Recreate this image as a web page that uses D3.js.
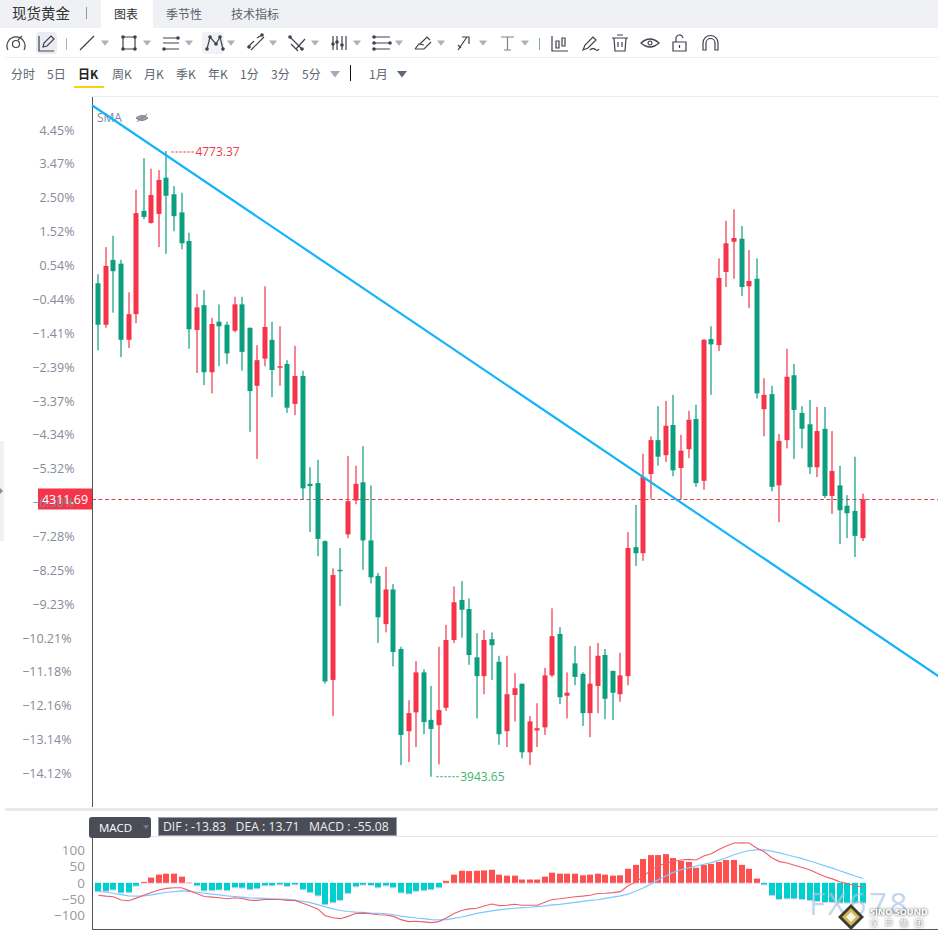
<!DOCTYPE html>
<html>
<head>
<meta charset="utf-8">
<title>现货黄金</title>
<script src="https://cdn.jsdelivr.net/npm/d3@7"></script>
<style>
html, body { margin: 0; padding: 0; background: #fff; overflow: hidden; }
svg { display: block; }
text { font-family: "Noto Sans CJK SC", "Noto Sans", sans-serif; }
.num { font-family: "Open Sans", "Noto Sans", sans-serif; }
</style>
</head>
<body>
<svg id="chart" width="938" height="939"></svg>
<script>
// daily candles (red = up, green = down)
var opens = [4598,4543,4629,4624,4523,4557,4694,4678,4690,4738,4716,4692,4654,4536,4569,4480,4547,4543,4535,4570,
    4539,4462,4498,4523,4486,4491,4438,4475,4332,4333,4256,4072,4218,4265,4310,4334,4257,4210,4146,4192,
    4113,4004,4029,4082,4019,4012,4035,4125,4178,4166,4102,4077,4126,4096,4004,4052,4067,3976,4005,4009,
    4078,4133,4051,4094,4080,4028,4064,4105,4084,4053,4077,4248,4240,4345,4390,4370,4410,4353,4378,4418,
    4336,4524,4516,4613,4653,4657,4594,4604,4431,4451,4330,4390,4476,4426,4411,4354,4405,4316,4330,4303,
    4296,4260];
var highs = [4610,4646,4661,4629,4586,4722,4764,4750,4748,4773.37,4727,4718,4665,4584,4589,4552,4570,4547,4580,4580,
    4539,4516,4594,4547,4541,4496,4515,4482,4354,4364,4257,4220,4247,4369,4356,4382,4330,4214,4222,4199,
    4116,4045,4097,4086,4064,4116,4145,4196,4203,4180,4134,4138,4135,4104,4104,4081,4067,4024,4041,4088,
    4167,4142,4082,4117,4082,4117,4121,4113,4084,4108,4268,4304,4372,4395,4435,4442,4450,4397,4429,4437,
    4524,4541,4631,4681,4696,4674,4642,4631,4472,4462,4398,4511,4491,4435,4443,4434,4434,4402,4356,4317,
    4368,4319];
var lows = [4509,4539,4559,4500,4512,4545,4683,4677,4646,4637,4667,4643,4511,4479,4463,4452,4488,4491,4533,4482,
    4401,4365,4488,4447,4462,4426,4423,4312,4268,4236,4067,4024,4170,4260,4305,4218,4200,4121,4135,4090,
    3959,3963,3983,4000,3943.65,3960,4031,4121,4128,4092,4021,4053,4072,3986,3983,4017,3968,3959,3983,3999,
    4076,4040,4021,4065,4011,3996,4028,4020,4019,4043,4065,4223,4230,4312,4356,4361,4342,4311,4366,4328,
    4324,4450,4508,4593,4604,4581,4565,4445,4395,4322,4281,4379,4365,4379,4345,4341,4313,4292,4252,4260,
    4235,4256];
var closes = [4543,4621,4614,4523,4557,4691,4686,4715,4735,4714,4687,4651,4537,4566,4480,4544,4541,4505,4570,4507,
    4455,4496,4540,4483,4488,4433,4475,4326,4329,4259,4070,4211,4216,4309,4332,4257,4208,4155,4192,4109,
    3999,4028,4082,4016,4007,4032,4125,4175,4165,4105,4077,4125,4118,4000,4053,4061,3976,4017,4008,4078,
    4130,4049,4055,4076,4028,4067,4104,4047,4055,4078,4247,4240,4341,4390,4368,4409,4350,4376,4417,4333,
    4523,4517,4605,4651,4658,4593,4601,4452,4450,4328,4389,4474,4430,4405,4354,4402,4316,4349,4297,4293,
    4263,4311.69];

var percentLabels = [4.45,3.47,2.50,1.52,0.54,-0.44,-1.41,-2.39,-3.37,-4.34,-5.32,-6.30,-7.28,-8.25,-9.23,-10.21,-11.18,-12.16,-13.14,-14.12];
var basePrice = 4596;
var lastPrice = 4311.69;
var highPrice = 4773.37;
var lowPrice = 3943.65;

// drawn trend line, two ends in (candle index, price)
var trendIndex = [-0.83, 111.6];
var trendPrice = [4834, 4073];

// MACD panel
var macdBars = [-26,-25,-21,-30,-29,-9,3,16,25,28,28,19,1,-8,-24,-23,-21,-23,-14,-15,
    -20,-17,-8,-8,-5,-10,-5,-20,-29,-39,-66,-60,-53,-32,-11,-6,-7,-14,-8,-14,
    -30,-33,-25,-23,-20,-14,6,25,37,36,37,38,40,25,22,22,10,10,10,19,
    31,28,28,28,23,25,28,25,22,23,43,55,73,85,85,88,76,67,64,46,
    55,58,64,70,70,55,43,13,-5,-38,-50,-48,-48,-50,-53,-56,-59,-59,-61,-61,
    -61,-61];
var difLine = [-38,-41,-43,-53,-55,-47,-38,-30,-22,-17,-15,-15,-24,-33,-42,-44,-46,-49,-46,-48,
    -53,-54,-51,-51,-51,-54,-54,-63,-71,-80,-101,-107,-110,-103,-94,-93,-95,-98,-99,-103,
    -113,-119,-118,-120,-122,-119,-108,-94,-85,-80,-78,-71,-65,-70,-69,-66,-69,-69,-69,-60,
    -51,-49,-46,-43,-41,-38,-33,-32,-30,-27,-9,2,19,39,52,60,66,70,72,70,
    82,89,102,113,122,123,122,107,95,77,65,61,54,47,40,29,19,12,3,-3,
    -9,-13.83];
var deaLine = [-26,-29,-32,-36,-40,-41,-40,-37,-33,-29,-27,-25,-26,-29,-32,-35,-37,-40,-42,-44,
    -46,-47,-48,-49,-50,-51,-53,-57,-61,-67,-74,-80,-85,-88,-90,-91,-93,-94,-95,-98,
    -102,-105,-108,-110,-113,-114,-113,-109,-105,-100,-94,-90,-86,-83,-80,-78,-76,-75,-73,-71,
    -68,-66,-63,-60,-57,-54,-52,-48,-44,-40,-35,-26,-16,-4,9,21,32,40,46,51,
    57,62,69,77,86,93,99,101,101,97,92,86,80,74,67,60,52,45,37,29,
    21,13.71];
var macdTicks = [100, 50, 0, -50, -100];

// toolbar text
var headerTabs = ["图表", "季节性", "技术指标"];
var periodLabels = ["分时", "5日", "日K", "周K", "月K", "季K", "年K", "1分", "3分", "5分"];

var red = "#f5344a", green = "#0b9f7f";
var svg = d3.select("#chart");

var x = d3.scaleLinear().domain([0, opens.length - 1]).range([98.3, 862.6]);
var y = d3.scaleLinear().domain([highPrice, lowPrice]).range([151, 776.7]);
var yMacd = d3.scaleLinear().domain([100, -100]).range([850.2, 915.4]);

drawHeader();
drawChart();
drawMacd();
drawWatermark();

function drawHeader() {
    svg.append("rect").attr("width", 938).attr("height", 28).attr("fill", "#eff1f5");
    svg.append("rect").attr("x", 101).attr("width", 52).attr("height", 28).attr("fill", "#fff");
    svg.append("text").attr("x", 12).attr("y", 18.5).attr("font-size", 14.5).attr("fill", "#333").text("现货黄金");
    svg.append("rect").attr("x", 86).attr("y", 7).attr("width", 1).attr("height", 12).attr("fill", "#8d97a8");

    var tabX = [114, 166, 231];
    svg.selectAll(".tab").data(headerTabs).enter().append("text")
        .attr("class", "tab")
        .attr("x", function(d, i) { return tabX[i]; })
        .attr("y", 18.5)
        .attr("font-size", 12)
        .attr("fill", function(d, i) { return i == 0 ? "#333" : "#5a6068"; })
        .text(function(d) { return d; });

    svg.append("rect").attr("x", 5).attr("y", 57).attr("width", 933).attr("height", 1).attr("fill", "#efefef");
    svg.append("rect").attr("x", 36).attr("y", 32).attr("width", 21).attr("height", 22).attr("rx", 4).attr("fill", "#eaecf2");
    svg.append("rect").attr("x", 202).attr("y", 32).attr("width", 22).attr("height", 22).attr("rx", 4).attr("fill", "#f1f2f5");
    svg.append("rect").attr("x", 66).attr("y", 38).attr("width", 1).attr("height", 12).attr("fill", "#b9a5cf");
    svg.append("rect").attr("x", 539).attr("y", 38).attr("width", 1).attr("height", 12).attr("fill", "#7fae9c");

    // caret positions of the tool buttons
    [105, 147, 189, 231, 273, 315, 357, 399, 441, 483, 525].forEach(function(cx) {
        caret(cx, 43, "#aab0bd");
    });

    var icons = [
        // gauge
        "M8 50a9 9 0 1 1 16 0 M12.5 44a3.500 3.500 0 1 0 7 0a3.500 3.500 0 1 0 -7 0 M18 40l4 -4",
        // pencil
        "M39 36v15h15 M43 47l1 -4l7 -7l3 3l-7 7z",
        // line
        "M80 50l14 -14",
        // rectangle
        "M123 37h12v12h-12z",
        // lines
        "M163 38h16 M163 43h16 M163 49h16",
        // pitchfork
        "M207 49l3 -12l6 7l4 -7l3 12",
        // parallel
        "M248 47l6 -6 M257 38l5 -3 M251 50l13 -13",
        // cross
        "M290 37l12 12 M296 49l9 -10 M291 44l7 7",
        // columns
        "M333 36v14 M337 36v14 M342 36v14 M346 36v14",
        // fib
        "M374 37h16 M374 43h16 M374 49h16",
        // brush
        "M415 49h9l7 -7 M420 44l7 -7l3 3 M415 49l4 -5l5 1",
        // arrow
        "M458 50l9 -13 M462 37h7v7 M458 45l3 3",
        // text
        "M501 37h13 M507.500 37v13 M504 50h7",
        // candle chart
        "M552 36v15h16 M556 41h3v7h-3z M562 38h3v8h-3z",
        // pencil 2
        "M583 50l2 -5l8 -8l3 3l-8 8z M590 50q3 -3 6 0q2 1 3 -1",
        // trash
        "M612 38h16 M617 35h6 M614 38l1 13h10l1 -13 M618 42v5 M622 42v5",
        // eye
        "M641 43q9 -8 18 0q-9 8 -18 0z M650 41a2 2 0 1 0 .01 0",
        // lock
        "M673 42h13v9h-13z M676 42v-3a3.500 3.500 0 0 1 7 -1 M679.500 45v3",
        // magnet
        "M703 50v-7a7.500 7.500 0 0 1 15 0v7h-3v-7a4.500 4.500 0 0 0 -9 0v7z"
    ];
    svg.selectAll(".icon").data(icons).enter().append("path")
        .attr("class", "icon")
        .attr("d", function(d) { return d; })
        .attr("fill", "none")
        .attr("stroke", function(d, i) { return i == 12 ? "#7b828c" : "#3d424b"; })
        .attr("stroke-width", 1.2);

    // handles on the drawing tools
    var dots = [[123,37],[135,37],[123,49],[135,49],[178,38],[164,49],[207,49],[210,37],[216,44],[220,37],[223,49],
        [249,47],[262,35],[290,37],[302,49],[374,37],[374,43],[374,49],[390,43],[337,42],[342,45],[333,44]];
    svg.selectAll(".dot").data(dots).enter().append("circle")
        .attr("class", "dot")
        .attr("cx", function(d) { return d[0]; })
        .attr("cy", function(d) { return d[1]; })
        .attr("r", 1.8)
        .attr("fill", "#3d424b");

    var periodX = [11, 47, 78, 112, 144, 176, 208, 240, 271, 302];
    svg.selectAll(".period").data(periodLabels).enter().append("text")
        .attr("class", "period")
        .attr("x", function(d, i) { return periodX[i]; })
        .attr("y", 78.5)
        .attr("font-size", 12)
        .attr("font-weight", function(d) { return d == "日K" ? "bold" : "normal"; })
        .attr("fill", function(d) { return d == "日K" ? "#222" : "#5d6572"; })
        .text(function(d) { return d; });
    svg.append("rect").attr("x", 74).attr("y", 86).attr("width", 30).attr("height", 2).attr("fill", "#f7d308");
    caret(335, 74, "#a3a9c0", 5);
    svg.append("rect").attr("x", 350).attr("y", 65).attr("width", 1).attr("height", 16).attr("fill", "#111");
    svg.append("text").attr("x", 369).attr("y", 78.5).attr("font-size", 12).attr("fill", "#5d6572").text("1月");
    caret(402, 74, "#5e6678", 5);
}

function caret(cx, cy, color, size) {
    var s = size || 4;
    svg.append("path")
        .attr("d", "M" + (cx - s) + " " + (cy - s * 0.6) + "h" + (2 * s) + "l" + (-s) + " " + (s * 1.3) + "z")
        .attr("fill", color);
}

function drawChart() {
    svg.append("rect").attr("x", 92).attr("y", 96).attr("width", 846).attr("height", 1).attr("fill", "#ececec");
    svg.append("rect").attr("x", 0).attr("y", 441).attr("width", 4).attr("height", 100).attr("fill", "#f0f1f5");
    svg.append("path").attr("d", "M0 488l3 3l-3 3z").attr("fill", "#8b8f98");

    // last price tag and dashed line
    var lastY = Math.floor(y(lastPrice)) + 0.5;
    svg.append("line")
        .attr("x1", 92).attr("x2", 938)
        .attr("y1", lastY).attr("y2", lastY)
        .attr("stroke", "#e0404f").attr("stroke-dasharray", "4,2.5");
    svg.append("rect").attr("x", 38).attr("y", lastY - 11).attr("width", 54).attr("height", 21).attr("fill", red);

    svg.selectAll(".pct").data(percentLabels).enter().append("text")
        .attr("class", "pct num")
        .attr("x", function(d) { return d <= -10 ? 71.5 : 74.5; })
        .attr("y", function(d) { return y(basePrice * (1 + d / 100)) + 4; })
        .attr("text-anchor", "end")
        .attr("font-size", 12.5)
        .attr("fill", "#858b99")
        .text(function(d) { return d3.format(".2f")(d) + "%"; });

    svg.append("text").attr("class", "num").attr("x", 65).attr("y", lastY + 4)
        .attr("text-anchor", "middle").attr("font-size", 12.5).attr("fill", "#fff").text(d3.format(".2f")(lastPrice));

    // axis
    svg.append("rect").attr("x", 92).attr("y", 97).attr("width", 1).attr("height", 710).attr("fill", "#555");

    svg.append("text").attr("class", "num").attr("x", 97).attr("y", 122).attr("font-size", 12).attr("fill", "#858b99").text("SMA");
    svg.append("path")
        .attr("d", "M136 118q6 -5 12 0q-6 5 -12 0z M137 122l10 -8")
        .attr("fill", "#9aa0ac").attr("stroke", "#7b818c").attr("stroke-width", 1);

    // candles
    var isUp = function(i) { return closes[i] >= opens[i]; };
    var idx = d3.range(opens.length);
    var candles = svg.append("g");
    candles.selectAll(".wick").data(idx).enter().append("rect")
        .attr("class", "wick")
        .attr("x", function(i) { return Math.round(x(i)) - 0.6; })
        .attr("y", function(i) { return y(highs[i]); })
        .attr("width", 1.2)
        .attr("height", function(i) { return y(lows[i]) - y(highs[i]); })
        .attr("fill", function(i) { return isUp(i) ? red : green; });
    candles.selectAll(".body").data(idx).enter().append("rect")
        .attr("class", "body")
        .attr("x", function(i) { return Math.round(x(i)) - 2.5; })
        .attr("y", function(i) { return y(Math.max(opens[i], closes[i])); })
        .attr("width", 5)
        .attr("height", function(i) { return Math.max(1, Math.abs(y(opens[i]) - y(closes[i]))); })
        .attr("fill", function(i) { return isUp(i) ? red : green; });

    // high and low labels
    var hiX = x(highs.indexOf(highPrice));
    svg.append("line").attr("x1", hiX + 5).attr("x2", hiX + 29).attr("y1", y(highPrice) + 1).attr("y2", y(highPrice) + 1)
        .attr("stroke", red).attr("stroke-dasharray", "2.5,1.500");
    svg.append("text").attr("class", "num").attr("x", hiX + 29).attr("y", y(highPrice) + 5)
        .attr("font-size", 12).attr("fill", "#ee3a4c").text(d3.format(".2f")(highPrice));
    var loX = x(lows.indexOf(lowPrice));
    svg.append("line").attr("x1", loX + 5).attr("x2", loX + 29).attr("y1", y(lowPrice)).attr("y2", y(lowPrice))
        .attr("stroke", "#3fb46f").attr("stroke-dasharray", "2.5,1.500");
    svg.append("text").attr("class", "num").attr("x", loX + 29).attr("y", y(lowPrice) + 4)
        .attr("font-size", 12).attr("fill", "#3fb46f").text(d3.format(".2f")(lowPrice));

    // trend line
    svg.append("line")
        .attr("x1", x(trendIndex[0])).attr("y1", y(trendPrice[0]))
        .attr("x2", x(trendIndex[1])).attr("y2", y(trendPrice[1]))
        .attr("stroke", "#13b4fb").attr("stroke-width", 2.2);

    svg.append("rect").attr("x", 5).attr("y", 808).attr("width", 933).attr("height", 3).attr("fill", "#e9e9e9");
}

function drawMacd() {
    svg.append("rect").attr("x", 92).attr("y", 836).attr("width", 846).attr("height", 1).attr("fill", "#e6e6e6");

    var bars = svg.append("g");
    var base = yMacd(0);
    // faint pink edge under each bar
    bars.selectAll(".edge").data(macdBars).enter().append("rect")
        .attr("class", "edge")
        .attr("x", function(d, i) { return Math.round(x(i)) - 3; })
        .attr("y", function(d) { return d >= 0 ? base : yMacd(d); })
        .attr("width", 6)
        .attr("height", 1)
        .attr("fill", "#f5c8ee");
    bars.selectAll(".bar").data(macdBars).enter().append("rect")
        .attr("class", "bar")
        .attr("x", function(d, i) { return Math.round(x(i)) - 3; })
        .attr("y", function(d) { return d >= 0 ? yMacd(d) : base; })
        .attr("width", 6)
        .attr("height", function(d) { return Math.abs(yMacd(d) - base); })
        .attr("fill", function(d) { return d >= 0 ? "#ff5050" : "#00cfcf"; });

    var line = d3.line()
        .x(function(d, i) { return x(i); })
        .y(function(d) { return yMacd(d); });
    svg.append("path").attr("d", line(deaLine)).attr("fill", "none").attr("stroke", "#7cc8ff").attr("stroke-width", 1.2);
    svg.append("path").attr("d", line(difLine)).attr("fill", "none").attr("stroke", "#ee5f6c").attr("stroke-width", 1.1);

    var axis = d3.axisLeft(yMacd).tickValues(macdTicks).tickSize(0).tickPadding(0);
    var gAxis = svg.append("g").attr("transform", "translate(85,0)").call(axis);
    gAxis.select(".domain").remove();
    gAxis.selectAll("text").attr("class", "num").attr("font-size", 13.5).attr("fill", "#999").style("font-family", "'Open Sans', sans-serif");

    svg.append("rect").attr("x", 92).attr("y", 836).attr("width", 1).attr("height", 94).attr("fill", "#555");
    svg.append("rect").attr("x", 92).attr("y", 929).attr("width", 846).attr("height", 1).attr("fill", "#555");

    // indicator button and readout
    svg.append("rect").attr("x", 89).attr("y", 817).attr("width", 62).attr("height", 21).attr("rx", 3).attr("fill", "#4a4d57");
    svg.append("text").attr("class", "num").attr("x", 99).attr("y", 832).attr("font-size", 11.5).attr("fill", "#fff").text("MACD");
    caret(146, 827, "#7d818c", 3);
    svg.append("rect").attr("x", 158.500).attr("y", 817.500).attr("width", 238).attr("height", 18)
        .attr("fill", "#4a4d57").attr("stroke", "#9a9da5");
    svg.append("text").attr("class", "num").attr("x", 163).attr("y", 831).attr("font-size", 12.2).attr("fill", "#eee")
        .style("white-space", "pre")
        .text("DIF : " + difLine[difLine.length - 1] + "   DEA : " + deaLine[deaLine.length - 1] + "   MACD : -55.08");
}

function drawWatermark() {
    svg.append("text").attr("class", "num").attr("x", 809).attr("y", 915)
        .attr("font-size", 31).attr("letter-spacing", 2.8).attr("fill", "rgba(172,198,228,0.72)").text("FX678");
    var logo = svg.append("g").attr("transform", "translate(851,917)");
    logo.append("path").attr("d", "M0 -13L13 0L0 13L-13 0z").attr("fill", "#3b3a36");
    logo.append("path").attr("d", "M0 -9L9 0L0 9L-9 0z").attr("fill", "#d2b84e");
    logo.append("path").attr("d", "M0 -5L5 0L0 5L-5 0z").attr("fill", "#f4f4f0");
    var shadow = "drop-shadow(0 0 1.5px rgba(0,0,0,0.75))";
    svg.append("text").attr("class", "num").attr("x", 870).attr("y", 915).attr("font-size", 9).attr("font-weight", "bold")
        .attr("fill", "#fff").style("filter", shadow).text("SINO SOUND");
    svg.append("text").attr("x", 870).attr("y", 926).attr("font-size", 8).attr("letter-spacing", 7)
        .attr("fill", "#fff").style("filter", shadow).text("汉声集团");
}
</script>
</body>
</html>
